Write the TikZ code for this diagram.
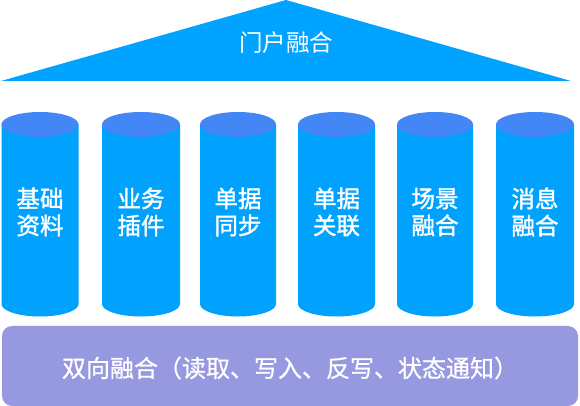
\documentclass[tikz,border=0pt]{standalone}
\usepackage{fontspec}
\newfontfamily\cjk{Noto Sans CJK SC}
\newfontfamily\cjkmid{Noto Sans CJK SC}[FakeBold=1.6]
\newfontfamily\cjksemi{Noto Sans CJK SC}[FakeBold=0.8]
\definecolor{roofblue}{RGB}{0,163,255}
\definecolor{bodyblue}{RGB}{0,162,254}
\definecolor{lidblue}{RGB}{66,135,245}
\definecolor{barpurple}{RGB}{150,153,224}
\begin{document}
\begin{tikzpicture}[x=1pt,y=1pt,
    roof/.style={fill=roofblue},
    colbody/.style={fill=bodyblue},
    collid/.style={fill=lidblue},
    basebar/.style={fill=barpurple,rounded corners=10pt},
    toptext/.style={text=white,font=\cjk\fontsize{23.5}{27}\selectfont},
    colname/.style={text=white,align=center,font=\cjkmid\fontsize{23.5}{27}\selectfont},
    bartext/.style={text=white,font=\cjksemi\fontsize{24}{28}\selectfont}]
            \useasboundingbox (0,0) rectangle (580,406);
            \fill[roof] (1,325) -- (286,406) -- (571,325) -- cycle;
            \node[toptext] (MH) at (286,363) {门户融合};
            \fill[colbody] (1.5,281.5) -- (1.5,102) arc[start angle=180,end angle=360,x radius=38.5,y radius=12.5] -- (78.5,281.5) -- cycle;
            \fill[collid] (40,281.5) ellipse[x radius=38.5,y radius=12.5];
            \node[colname] (JC) at (40,194) {基础\\资料};
            \fill[colbody] (102,281.5) -- (102,102) arc[start angle=180,end angle=360,x radius=39,y radius=12.5] -- (180,281.5) -- cycle;
            \fill[collid] (141,281.5) ellipse[x radius=39,y radius=12.5];
            \node[colname] (YW) at (141,194) {业务\\插件};
            \fill[colbody] (200,281.5) -- (200,102) arc[start angle=180,end angle=360,x radius=38,y radius=12.5] -- (276,281.5) -- cycle;
            \fill[collid] (238,281.5) ellipse[x radius=38,y radius=12.5];
            \node[colname] (TB) at (238,194) {单据\\同步};
            \fill[colbody] (298,281.5) -- (298,102) arc[start angle=180,end angle=360,x radius=38.5,y radius=12.5] -- (375,281.5) -- cycle;
            \fill[collid] (336.5,281.5) ellipse[x radius=38.5,y radius=12.5];
            \node[colname] (GL) at (336.5,194) {单据\\关联};
            \fill[colbody] (397,281.5) -- (397,102) arc[start angle=180,end angle=360,x radius=38,y radius=12.5] -- (473,281.5) -- cycle;
            \fill[collid] (435,281.5) ellipse[x radius=38,y radius=12.5];
            \node[colname] (CJ) at (435,194) {场景\\融合};
            \fill[colbody] (496,281.5) -- (496,102) arc[start angle=180,end angle=360,x radius=39,y radius=12.5] -- (574,281.5) -- cycle;
            \fill[collid] (535,281.5) ellipse[x radius=39,y radius=12.5];
            \node[colname] (XX) at (535,194) {消息\\融合};
            \fill[basebar] (2,0) rectangle (578,80);
            \node[bartext] (SX) at (290,38) {双向融合（读取、写入、反写、状态通知）};
        \end{tikzpicture}
\end{document}
